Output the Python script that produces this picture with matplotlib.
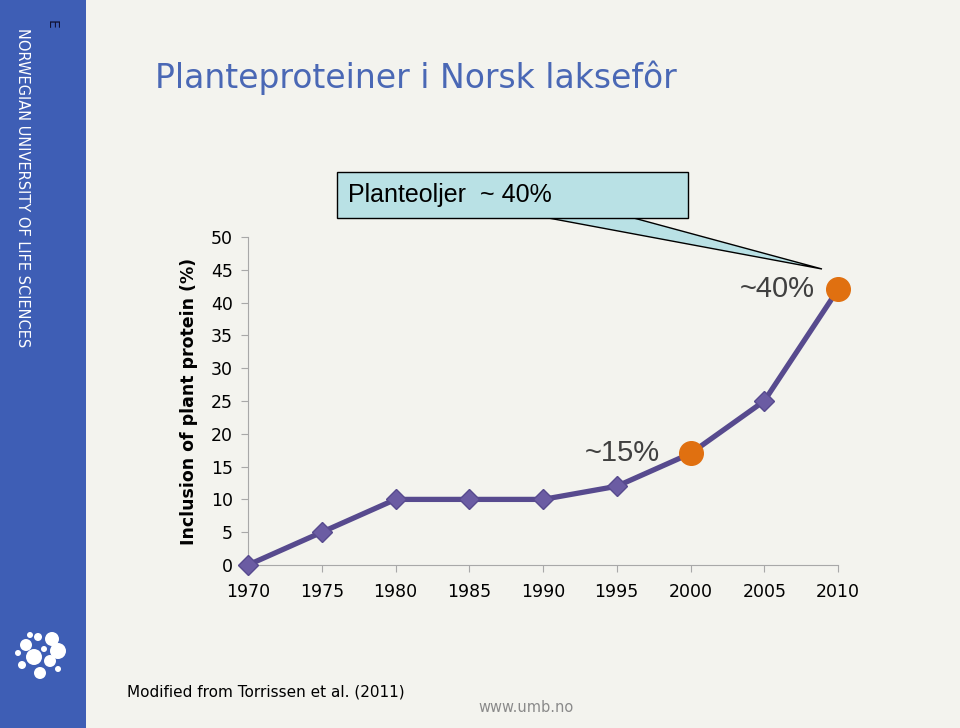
import matplotlib.pyplot as plt
from matplotlib.patches import Rectangle, Polygon, Ellipse

years = [1970, 1975, 1980, 1985, 1990, 1995, 2000, 2005, 2010]
plant_protein = [0, 5, 10, 10, 10, 12, 17, 25, 42]
highlight_years = [2000, 2010]
highlight_vals = [17, 42]
highlight_labels = ['~15%', '~40%']

line_col = '#574a8e'
marker_col = '#6b5ca3'
orange = '#e07010'
bg = '#f3f3ee'
band = '#3e5eb5'

W, H = 960, 728


def fx(px):
    return px / W


def fy(py):
    return 1 - py / H


fig = plt.figure(figsize=(9.6, 7.28), dpi=100)
fig.patch.set_facecolor(bg)

# blue side band
fig.add_artist(Rectangle((0, 0), fx(86), 1, transform=fig.transFigure,
                         facecolor=band, edgecolor='none', zorder=0))
fig.text(fx(22), fy(28), 'NORWEGIAN UNIVERSITY OF LIFE SCIENCES', rotation=-90,
         color='white', fontsize=10.5, ha='center', va='top')
fig.text(fx(52), fy(20), 'E', rotation=-90, color='#111133', fontsize=10,
         ha='center', va='top')
# simple logo
cx, cy = 38, 655
for dx, dy, r in [(-12, -10, 6), (0, -18, 4), (14, -16, 7), (20, -4, 8), (-4, 2, 8),
                  (12, 6, 6), (-16, 10, 4), (2, 18, 6), (-8, -20, 3), (6, -6, 3),
                  (-20, -2, 3), (20, 14, 3)]:
    fig.add_artist(Ellipse((fx(cx + dx), fy(cy + dy)), 2 * r / W, 2 * r / H,
                           transform=fig.transFigure, facecolor='white',
                           edgecolor='none', zorder=1))

fig.text(fx(155), fy(78), 'Planteproteiner i Norsk laksefôr', color='#4a68b5',
         fontsize=23.8, ha='left', va='center')

ax = fig.add_axes([fx(248), fy(565), fx(590), 328 / H])
ax.set_facecolor('none')
ax.plot(years, plant_protein, color=line_col, lw=3.8, marker='D', ms=10,
        markerfacecolor=marker_col, markeredgecolor=line_col, clip_on=False, zorder=3)
ax.plot(highlight_years, highlight_vals, 'o', color=orange, ms=17, clip_on=False, zorder=4)
offsets = [(-22, 0), (-16.5, 0)]
for yr, v, lab, off in zip(highlight_years, highlight_vals, highlight_labels, offsets):
    ax.annotate(lab, (yr, v), xytext=off, textcoords='offset points',
                ha='right', va='center', fontsize=21, color='#404040',
                family='Liberation Sans')

ax.set_xlim(1970, 2010)
ax.set_ylim(0, 50)
ax.set_xticks(years)
ax.set_yticks(range(0, 51, 5))
for s in ['top', 'right']:
    ax.spines[s].set_visible(False)
for s in ['left', 'bottom']:
    ax.spines[s].set_color('#a8a8a8')
ax.tick_params(colors='#a8a8a8', labelcolor='black', labelsize=12.5, length=5)
ax.tick_params(axis='x', pad=8)
ax.tick_params(axis='y', pad=6)
ax.set_ylabel('Inclusion of plant protein (%)', fontsize=12.5, fontweight='bold',
              labelpad=9)

# callout box
fig.add_artist(Polygon([(fx(543), fy(217)), (fx(630), fy(217)), (fx(822), fy(269))],
                       closed=True, transform=fig.transFigure, facecolor='#b9e1e5',
                       edgecolor='black', lw=1, zorder=5))
fig.add_artist(Rectangle((fx(337), fy(218)), fx(351), 46 / H,
                         transform=fig.transFigure, facecolor='#b9e1e5',
                         edgecolor='black', lw=1, zorder=6))
fig.text(fx(348), fy(195), 'Planteoljer  ~ 40%', fontsize=18,
         family='Liberation Sans', ha='left', va='center', zorder=8)

fig.text(fx(127), fy(692), 'Modified from Torrissen et al. (2011)',
         fontsize=11, ha='left', va='center')
fig.text(fx(478), fy(708), 'www.umb.no', fontsize=10.5, color='#8a8a8a',
         ha='left', va='center')

plt.savefig('out.png', dpi=100, facecolor=fig.get_facecolor())
